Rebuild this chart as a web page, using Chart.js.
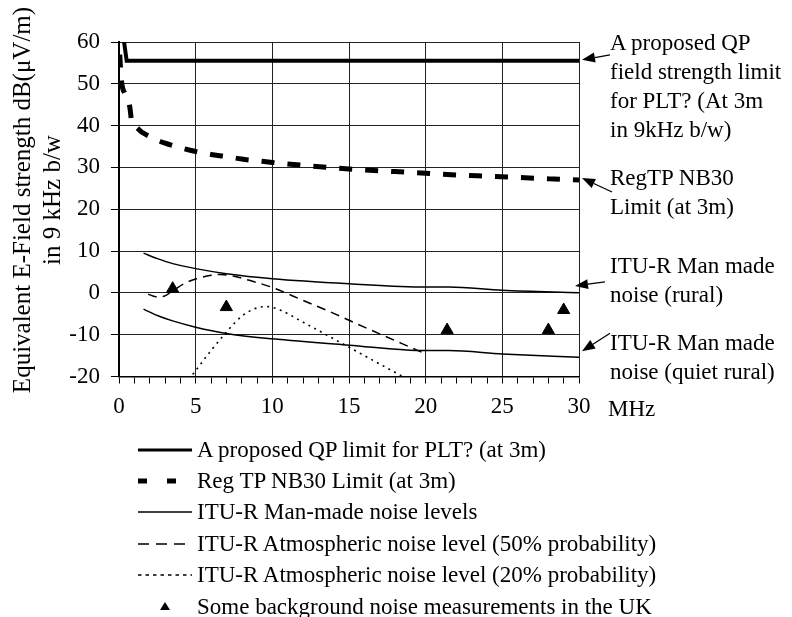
<!DOCTYPE html>
<html>
<head>
<meta charset="utf-8">
<title>PLT limits and background noise</title>
<script src="https://cdn.jsdelivr.net/npm/chart.js@4.4.1/dist/chart.umd.min.js"></script>
<style>
  html, body { margin: 0; padding: 0; background: #fff; }
  #wrap { position: relative; width: 792px; height: 617px; overflow: hidden;
          font-family: "Liberation Serif", "Times New Roman", serif; color: #000; }
  #wrap canvas { position: absolute; left: 0; top: 0; }
  .note { position: absolute; left: 610px; font-size: 23px; line-height: 29px; white-space: nowrap; }
  #ytitle { position: absolute; left: -163px; top: 170px; width: 400px; height: 60px;
            line-height: 30px; font-size: 25px; text-align: center; white-space: nowrap;
            transform: rotate(-90deg); transform-origin: 50% 50%; }
  #legend { position: absolute; left: 138px; top: 434px; font-size: 23px; }
  .row { height: 31.4px; display: flex; align-items: center; white-space: nowrap; }
  .row svg { width: 59px; height: 20px; flex: none; }
</style>
</head>
<body>
<div id="wrap">
  <canvas id="chart" width="792" height="617"></canvas>
  <div id="ytitle"></div>
  <div class="note" style="top:28px">A proposed QP<br>field strength limit<br>for PLT? (At 3m<br>in 9kHz b/w)</div>
  <div class="note" style="top:163px">RegTP NB30<br>Limit (at 3m)</div>
  <div class="note" style="top:251px">ITU-R Man made<br>noise (rural)</div>
  <div class="note" style="top:328px">ITU-R Man made<br>noise (quiet rural)</div>
  <div class="note" style="top:394px;left:608px">MHz</div>
  <div id="legend"></div>
</div>
<script>
// frequency in MHz, level in dB(uV/m)
const qpFreq = [0.2, 0.5, 30];
const qpLevel = [63.5, 55.5, 55.5];

const nb30Freq = [0.05, 0.15, 0.4, 0.7, 0.85, 1, 1.5, 2, 2.5, 3, 4, 5, 6, 7, 8, 9, 10, 12, 14, 16, 18, 20, 22, 24, 26, 28, 30];
const nb30Level = [57, 51, 47.5, 44.5, 40.5, 40, 38.4, 37.4, 36.5, 35.8, 34.7, 33.8, 33.1, 32.6, 32.0, 31.6, 31.2, 30.5, 29.9, 29.4, 29.0, 28.6, 28.2, 27.9, 27.6, 27.3, 27.0];

const ruralFreq = [1.6, 2.5, 3.5, 5, 7, 10, 15, 20, 21.5, 25, 30];
const ruralLevel = [9.5, 8.2, 7.0, 5.8, 4.6, 3.4, 2.2, 1.4, 1.4, 0.6, 0];

const quietFreq = [1.6, 2.5, 3.5, 5, 7, 10, 15, 20, 21.5, 25, 30];
const quietLevel = [-3.9, -5.4, -6.7, -8.2, -9.7, -11.0, -12.5, -13.8, -13.8, -14.6, -15.4];

const atm50Freq = [1.9, 2.4, 2.8, 3.5, 4.3, 5, 6, 6.6, 7.5, 8.5, 10, 12, 14, 16, 18, 20];
const atm50Level = [-0.3, -0.9, -0.9, 0.5, 2.3, 3.3, 4.2, 4.4, 4.0, 3.0, 1.3, -1.8, -4.9, -8.2, -11.4, -14.6];

const atm20Freq = [4.3, 5, 6, 7, 8, 9, 9.7, 10.5, 12, 14, 15, 17, 19];
const atm20Level = [-22, -18.6, -13.8, -9.4, -5.6, -3.6, -3.3, -4.1, -7.0, -11.0, -13.0, -17.0, -21];

const measFreq = [3.5, 7, 21.4, 28, 29];
const measLevel = [1.0, -3.4, -8.9, -8.9, -4.1];

const yTitle = ["Equivalent E-Field strength dB(\u03bcV/m)", "in 9 kHz b/w"];

const legendLabels = [
  "A proposed QP limit for PLT? (at 3m)",
  "Reg TP NB30 Limit (at 3m)",
  "ITU-R Man-made noise levels",
  "ITU-R Atmospheric noise level (50% probability)",
  "ITU-R Atmospheric noise level (20% probability)",
  "Some background noise measurements in the UK"
];

const pts = (xs, ys) => xs.map((f, i) => ({ x: f, y: ys[i] }));

// arrow from note text to the end of each curve (offsets in px from x=30 / curve level)
const noteArrows = [
  { level: qpLevel[qpLevel.length - 1], tip: [3, -1], tail: [31, -6] },
  { level: nb30Level[nb30Level.length - 1], tip: [3, -2], tail: [33, 12] },
  { level: ruralLevel[ruralLevel.length - 1], tip: [-4, -7], tail: [26, -11] },
  { level: quietLevel[quietLevel.length - 1], tip: [3, -6], tail: [31, -24] }
];

const arrowPlugin = {
  id: "noteArrows",
  afterDatasetsDraw(chart) {
    const { ctx, scales: { x, y } } = chart;
    const x30 = x.getPixelForValue(30);
    ctx.save();
    ctx.strokeStyle = "#000";
    ctx.fillStyle = "#000";
    ctx.lineWidth = 1.3;
    noteArrows.forEach((a) => {
      const ly = y.getPixelForValue(a.level);
      const tx = x30 + a.tip[0], ty = ly + a.tip[1];
      const sx = x30 + a.tail[0], sy = ly + a.tail[1];
      const ang = Math.atan2(ty - sy, tx - sx);
      const len = 13, half = 5;
      const bx = tx - len * Math.cos(ang), by = ty - len * Math.sin(ang);
      ctx.beginPath();
      ctx.moveTo(sx, sy);
      ctx.lineTo(bx, by);
      ctx.stroke();
      ctx.beginPath();
      ctx.moveTo(tx, ty);
      ctx.lineTo(bx + half * Math.sin(ang), by - half * Math.cos(ang));
      ctx.lineTo(bx - half * Math.sin(ang), by + half * Math.cos(ang));
      ctx.closePath();
      ctx.fill();
    });
    ctx.restore();
  }
};

Chart.defaults.font.family = "'Liberation Serif', 'Times New Roman', serif";
Chart.defaults.color = "#000";

const lineBase = { showLine: true, pointRadius: 0, fill: false, borderColor: "#000", cubicInterpolationMode: "monotone" };

new Chart(document.getElementById("chart"), {
  type: "scatter",
  data: {
    datasets: [
      { ...lineBase, label: legendLabels[0], data: pts(qpFreq, qpLevel), borderWidth: 4, cubicInterpolationMode: "default", tension: 0 },
      { ...lineBase, label: legendLabels[1], data: pts(nb30Freq, nb30Level), borderWidth: 5, borderDash: [13, 13] },
      { ...lineBase, label: legendLabels[2], data: pts(ruralFreq, ruralLevel), borderWidth: 1.5 },
      { ...lineBase, label: legendLabels[2], data: pts(quietFreq, quietLevel), borderWidth: 1.5 },
      { ...lineBase, label: legendLabels[3], data: pts(atm50Freq, atm50Level), borderWidth: 1.5, borderDash: [9, 6] },
      { ...lineBase, label: legendLabels[4], data: pts(atm20Freq, atm20Level), borderWidth: 1.6, borderDash: [2, 4.5] },
      {
        label: legendLabels[5], data: pts(measFreq, measLevel), showLine: false,
        pointStyle: "triangle", pointRadius: 7, backgroundColor: "#000", borderColor: "#000", borderWidth: 1
      }
    ]
  },
  options: {
    responsive: false,
    animation: false,
    layout: { padding: { left: 0, top: 42, right: 213, bottom: 180.5 } },
    plugins: { legend: { display: false }, tooltip: { enabled: false } },
    scales: {
      x: {
        type: "linear", min: 0, max: 30,
        afterFit: (s) => { s.height = 60; },
        ticks: {
          stepSize: 1, autoSkip: false, maxRotation: 0, padding: 10,
          font: { size: 23 },
          callback: (v) => (v % 5 === 0 ? v : "")
        },
        grid: {
          color: (c) => (c.tick && c.tick.value % 5 === 0 ? "#222" : "rgba(0,0,0,0)"),
          tickColor: "#000", tickLength: 7, lineWidth: 1
        },
        border: { color: "#000", width: 1.6 }
      },
      y: {
        min: -20, max: 60,
        afterFit: (s) => { s.width = 119; },
        ticks: { stepSize: 10, padding: 11, font: { size: 23 } },
        grid: { color: "#222", tickColor: "#000", tickLength: 8, lineWidth: 1 },
        border: { color: "#000", width: 2 }
      }
    }
  },
  plugins: [arrowPlugin]
});

// rotated y-axis title
const yt = document.getElementById("ytitle");
yTitle.forEach((line) => {
  const d = document.createElement("div");
  d.textContent = line;
  yt.appendChild(d);
});

// legend below the plot
const samples = [
  '<line x1="0" y1="10" x2="54" y2="10" stroke="#000" stroke-width="3"/>',
  '<rect x="0" y="7.5" width="9" height="5" fill="#000"/><rect x="29" y="7.5" width="9" height="5" fill="#000"/>',
  '<line x1="0" y1="10" x2="54" y2="10" stroke="#000" stroke-width="1.4"/>',
  '<line x1="0" y1="10" x2="54" y2="10" stroke="#000" stroke-width="1.4" stroke-dasharray="11 7"/>',
  '<line x1="0" y1="10" x2="54" y2="10" stroke="#000" stroke-width="1.4" stroke-dasharray="3.5 4"/>',
  '<polygon points="27,5 32,13 22,13" fill="#000"/>'
];
const legend = document.getElementById("legend");
legendLabels.forEach((label, i) => {
  const row = document.createElement("div");
  row.className = "row";
  row.innerHTML = '<svg viewBox="0 0 59 20">' + samples[i] + "</svg>";
  const span = document.createElement("span");
  span.textContent = label;
  row.appendChild(span);
  legend.appendChild(row);
});
</script>
</body>
</html>
